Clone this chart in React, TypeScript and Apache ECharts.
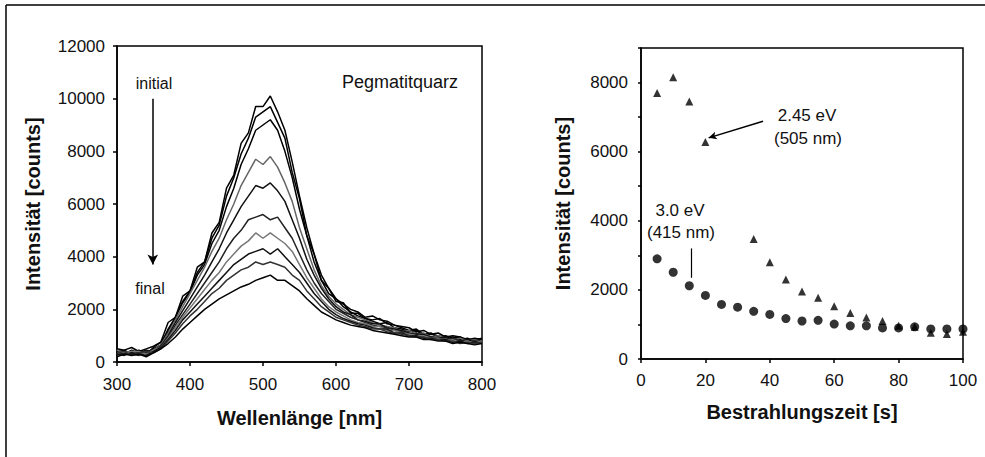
import React, { useEffect, useRef } from "react";
import * as echarts from "echarts";

// ---------- Left panel: spectra (Pegmatitquarz) ----------
const wavelengths = [
  300, 310, 320, 330, 340, 350, 360, 370, 380, 390, 400, 410, 420, 430, 440, 450, 460,
  470, 480, 490, 500, 510, 520, 530, 540, 550, 560, 570, 580, 590, 600, 610, 620, 630,
  640, 650, 660, 670, 680, 690, 700, 710, 720, 730, 740, 750, 760, 770, 780, 790, 800,
];

const spec1 = [500, 450, 550, 400, 500, 600, 750, 1500, 1700, 2500, 2700, 3600, 3800, 4900, 5300, 6600, 7100, 8300, 8700, 9700, 9700, 10100, 9500, 8800, 7600, 6300, 5100, 4100, 3300, 2800, 2400, 2200, 2000, 1900, 1700, 1750, 1600, 1550, 1400, 1350, 1300, 1150, 1200, 1050, 1100, 950, 1000, 950, 850, 900, 850];
const spec2 = [350, 450, 300, 400, 350, 500, 650, 1250, 1700, 2300, 2700, 3400, 3800, 4700, 5200, 6300, 7000, 7900, 8500, 9300, 9500, 9700, 9100, 8500, 7200, 6200, 4800, 4100, 3100, 2800, 2300, 2250, 1850, 1850, 1650, 1600, 1650, 1450, 1400, 1300, 1200, 1250, 1050, 1100, 950, 1000, 900, 950, 800, 850, 900];
const spec3 = [450, 400, 350, 450, 300, 550, 750, 1150, 1700, 2250, 2650, 3300, 3700, 4500, 5000, 5900, 6600, 7500, 8100, 8800, 9000, 9200, 8800, 8000, 7000, 5800, 4800, 3800, 3100, 2600, 2400, 2100, 1900, 1750, 1650, 1550, 1450, 1500, 1300, 1250, 1150, 1200, 1000, 1050, 1000, 900, 950, 850, 900, 800, 850];
const spec4 = [300, 350, 400, 300, 400, 450, 650, 1100, 1600, 2100, 2600, 3100, 3600, 4200, 4700, 5400, 6000, 6700, 7200, 7700, 7500, 7800, 7400, 6800, 6100, 5100, 4300, 3500, 2900, 2500, 2200, 2000, 1800, 1700, 1600, 1500, 1400, 1350, 1300, 1150, 1200, 1050, 1100, 950, 1000, 900, 850, 900, 800, 850, 750];
const spec5 = [400, 300, 450, 350, 450, 400, 600, 1000, 1500, 1950, 2400, 2850, 3300, 3800, 4300, 4900, 5400, 5900, 6300, 6700, 6600, 6800, 6500, 6100, 5400, 4700, 3900, 3300, 2800, 2400, 2100, 1900, 1800, 1600, 1550, 1450, 1450, 1300, 1250, 1200, 1100, 1050, 1050, 950, 900, 950, 850, 800, 850, 750, 800];
const spec6 = [250, 350, 300, 250, 350, 400, 600, 950, 1400, 1800, 2200, 2600, 3000, 3400, 3800, 4300, 4700, 5000, 5400, 5500, 5600, 5400, 5500, 5100, 4700, 4100, 3500, 3000, 2600, 2300, 2000, 1850, 1700, 1600, 1500, 1400, 1350, 1300, 1200, 1150, 1050, 1100, 950, 950, 900, 850, 900, 800, 750, 800, 750];
const spec7 = [450, 350, 400, 400, 300, 450, 550, 900, 1300, 1700, 2050, 2400, 2750, 3100, 3400, 3800, 4100, 4400, 4600, 4900, 4700, 4900, 4700, 4500, 4200, 3700, 3200, 2800, 2400, 2100, 1900, 1750, 1600, 1500, 1450, 1350, 1350, 1200, 1200, 1100, 1050, 1000, 1000, 900, 900, 800, 850, 750, 800, 700, 800];
const spec8 = [300, 250, 350, 300, 250, 400, 550, 850, 1200, 1600, 1900, 2200, 2500, 2800, 3100, 3400, 3700, 3900, 4100, 4200, 4300, 4100, 4300, 4000, 3700, 3400, 3000, 2600, 2300, 2000, 1800, 1650, 1550, 1450, 1400, 1300, 1250, 1250, 1100, 1100, 1000, 1000, 900, 900, 850, 850, 750, 800, 700, 750, 700];
const spec9 = [350, 400, 250, 350, 400, 350, 500, 800, 1100, 1450, 1750, 2000, 2300, 2600, 2800, 3100, 3300, 3500, 3600, 3800, 3700, 3800, 3700, 3600, 3300, 3100, 2700, 2400, 2100, 1900, 1700, 1600, 1500, 1400, 1350, 1250, 1250, 1150, 1100, 1050, 1000, 950, 950, 850, 850, 800, 800, 700, 750, 700, 750];
const spec10 = [200, 300, 250, 300, 200, 350, 500, 700, 950, 1250, 1500, 1750, 2000, 2200, 2400, 2550, 2700, 2850, 2950, 3100, 3200, 3300, 3100, 3100, 2900, 2700, 2400, 2150, 1900, 1750, 1600, 1500, 1400, 1350, 1300, 1200, 1150, 1100, 1050, 1000, 950, 950, 850, 850, 800, 800, 700, 750, 700, 650, 700];
const spectra = [spec1, spec2, spec3, spec4, spec5, spec6, spec7, spec8, spec9, spec10];
const spectraColors = ["#000", "#000", "#000", "#666", "#111", "#222", "#777", "#111", "#333", "#000"];

const leftXTicks = { min: 300, max: 800, interval: 100 };
const leftYTicks = { min: 0, max: 12000, interval: 2000 };

// ---------- Right panel: intensity vs. irradiation time ----------
const timeTri = [5, 10, 15, 20, 35, 40, 45, 50, 55, 60, 65, 70, 75, 80, 85, 90, 95, 100];
const intTri = [7700, 8150, 7450, 6280, 3470, 2800, 2300, 1950, 1770, 1530, 1330, 1200, 1100, 960, 930, 760, 720, 790];
const timeCirc = [5, 10, 15, 20, 25, 30, 35, 40, 45, 50, 55, 60, 65, 70, 75, 80, 85, 90, 95, 100];
const intCirc = [2900, 2510, 2120, 1840, 1580, 1500, 1380, 1290, 1170, 1100, 1120, 1010, 960, 960, 900, 900, 930, 870, 870, 870];

const rightXTicks = { min: 0, max: 100, interval: 20 };
const rightYTicks = { min: 0, max: 9000, interval: 1000 };

const FONT = "'Liberation Sans', Arial, sans-serif";

export default function App() {
  const ref = useRef<HTMLDivElement>(null);

  useEffect(() => {
    if (!ref.current) return;
    const chart = echarts.init(ref.current, undefined, { renderer: "svg" });

    const axisLabel = { color: "#111", fontSize: 17, fontFamily: FONT };
    const nameStyle = { color: "#111", fontSize: 20, fontWeight: "bold" as const, fontFamily: FONT };
    const axisLine = { show: true, lineStyle: { color: "#000", width: 1.5 } };

    const spectraSeries = spectra.map((s, i) => ({
      type: "line",
      xAxisIndex: 0,
      yAxisIndex: 0,
      data: wavelengths.map((w, k) => [w, s[k]]),
      showSymbol: false,
      symbol: "none",
      lineStyle: { color: spectraColors[i], width: 1.5 },
      z: 3,
      ...(i === 0
        ? {
            markLine: {
              silent: true,
              symbol: ["none", "arrow"],
              symbolSize: [8, 10],
              label: { show: false },
              lineStyle: { color: "#000", width: 1.5, type: "solid" },
              data: [[{ coord: [349, 10000] }, { coord: [349, 3700] }]],
            },
          }
        : {}),
    }));

    chart.setOption({
      animation: false,
      backgroundColor: "#fff",
      grid: [
        { left: 117, top: 46, width: 365, height: 316, show: true, borderColor: "#000", borderWidth: 1.5, backgroundColor: "transparent" },
        { left: 641, top: 48, width: 322, height: 311, show: true, borderColor: "#000", borderWidth: 1.5, backgroundColor: "transparent" },
      ],
      xAxis: [
        {
          type: "value",
          gridIndex: 0,
          ...leftXTicks,
          axisLine,
          axisTick: { show: true, inside: false, length: 4, lineStyle: { color: "#000", width: 1.5 } },
          splitLine: { show: false },
          axisLabel: { ...axisLabel, margin: 14, formatter: (v: number) => String(v) },
          name: "Wellenlänge [nm]",
          nameLocation: "middle",
          nameGap: 46,
          nameTextStyle: nameStyle,
        },
        {
          type: "value",
          gridIndex: 1,
          ...rightXTicks,
          axisLine,
          axisTick: { show: true, inside: false, length: 4, lineStyle: { color: "#000", width: 1.5 } },
          splitLine: { show: false },
          axisLabel: { ...axisLabel, margin: 13, formatter: (v: number) => String(v) },
          name: "Bestrahlungszeit [s]",
          nameLocation: "middle",
          nameGap: 43,
          nameTextStyle: nameStyle,
        },
      ],
      yAxis: [
        {
          type: "value",
          gridIndex: 0,
          ...leftYTicks,
          axisLine,
          axisTick: { show: true, inside: false, length: 4, lineStyle: { color: "#000", width: 1.5 } },
          splitLine: { show: false },
          axisLabel: { ...axisLabel, margin: 12, formatter: (v: number) => String(v) },
          name: "Intensität [counts]",
          nameLocation: "middle",
          nameGap: 74,
          nameTextStyle: nameStyle,
        },
        {
          type: "value",
          gridIndex: 1,
          ...rightYTicks,
          axisLine,
          axisTick: { show: true, inside: false, length: 3, lineStyle: { color: "#000", width: 1.5 } },
          splitLine: { show: false },
          axisLabel: {
            ...axisLabel,
            margin: 13,
            formatter: (v: number) => (v % 2000 === 0 ? String(v) : ""),
          },
          name: "Intensität [counts]",
          nameLocation: "middle",
          nameGap: 68,
          nameTextStyle: nameStyle,
        },
      ],
      series: [
        ...spectraSeries,
        {
          type: "scatter",
          xAxisIndex: 1,
          yAxisIndex: 1,
          symbol: "triangle",
          symbolSize: 8,
          itemStyle: { color: "#000" },
          data: timeTri.map((t, k) => [t, intTri[k]]),
          markLine: {
            silent: true,
            symbol: ["none", "arrow"],
            symbolSize: [6, 8],
            label: { show: false },
            lineStyle: { color: "#000", width: 1.5, type: "solid" },
            data: [[{ coord: [37.9, 6880] }, { coord: [21, 6400] }]],
          },
        },
        {
          type: "scatter",
          xAxisIndex: 1,
          yAxisIndex: 1,
          symbol: "circle",
          symbolSize: 9,
          itemStyle: { color: "#000" },
          data: timeCirc.map((t, k) => [t, intCirc[k]]),
          markLine: {
            silent: true,
            symbol: ["none", "none"],
            label: { show: false },
            lineStyle: { color: "#000", width: 1.2, type: "solid" },
            data: [[{ coord: [15.5, 3200] }, { coord: [15.5, 2350] }]],
          },
        },
      ],
      graphic: [
        { type: "line", shape: { x1: 6, y1: 5, x2: 985, y2: 5 }, style: { stroke: "#000", lineWidth: 1.5 } },
        { type: "line", shape: { x1: 6, y1: 5, x2: 6, y2: 457 }, style: { stroke: "#000", lineWidth: 1.5 } },
        { type: "text", x: 154, y: 83, style: { text: "initial", fill: "#111", fontSize: 16, fontFamily: FONT, align: "center", verticalAlign: "middle" } },
        { type: "text", x: 150, y: 288, style: { text: "final", fill: "#111", fontSize: 16, fontFamily: FONT, align: "center", verticalAlign: "middle" } },
        { type: "text", x: 400, y: 82, style: { text: "Pegmatitquarz", fill: "#111", fontSize: 18, fontFamily: FONT, align: "center", verticalAlign: "middle" } },
        { type: "text", x: 807, y: 115, style: { text: "2.45 eV", fill: "#111", fontSize: 17, fontFamily: FONT, align: "center", verticalAlign: "middle" } },
        { type: "text", x: 808, y: 138, style: { text: "(505 nm)", fill: "#111", fontSize: 17, fontFamily: FONT, align: "center", verticalAlign: "middle" } },
        { type: "text", x: 680, y: 210, style: { text: "3.0 eV", fill: "#111", fontSize: 17, fontFamily: FONT, align: "center", verticalAlign: "middle" } },
        { type: "text", x: 681, y: 232, style: { text: "(415 nm)", fill: "#111", fontSize: 17, fontFamily: FONT, align: "center", verticalAlign: "middle" } },
      ],
    });

    return () => chart.dispose();
  }, []);

  return (
    <div
      ref={ref}
      style={{ position: "fixed", left: 0, top: 0, width: 985, height: 457, background: "#fff" }}
    />
  );
}
